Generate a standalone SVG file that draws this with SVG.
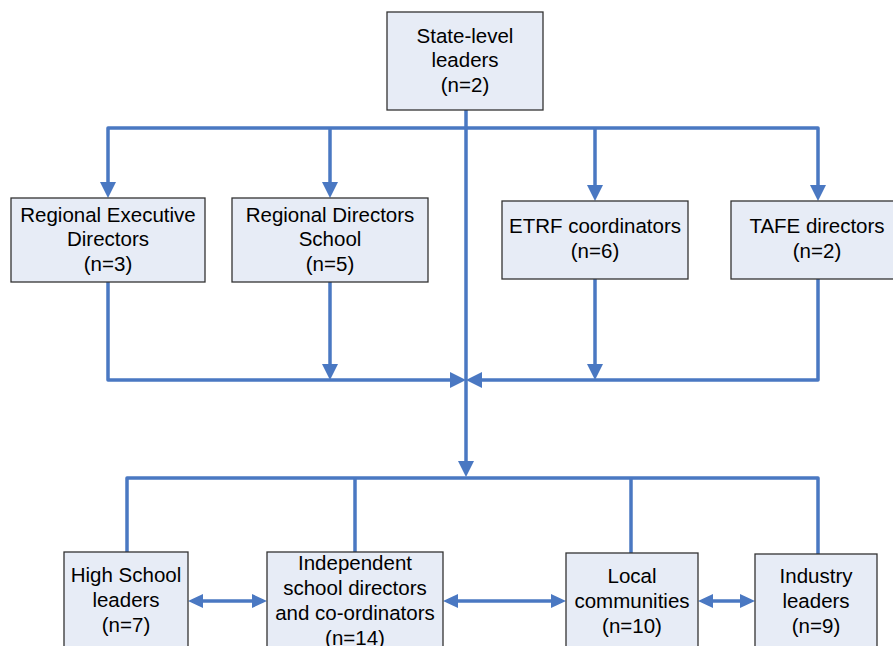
<svg xmlns="http://www.w3.org/2000/svg" width="893" height="646" viewBox="0 0 893 646">
<style>
.box{fill:#E7ECF6;stroke:#333;stroke-width:1.3}
.t{font-family:"Liberation Sans",Arial,sans-serif;font-size:20.5px;fill:#000;text-anchor:middle}
.c{fill:none;stroke:#4A78C2;stroke-width:3.5;stroke-linejoin:round}
.a{marker-end:url(#ah)}
.d{marker-start:url(#sh);marker-end:url(#sh)}
</style>
<defs>
<marker id="ah" markerUnits="userSpaceOnUse" viewBox="0 0 16 16" refX="12" refY="8" markerWidth="16" markerHeight="16" orient="auto-start-reverse">
<path d="M0,0 L16,8 L0,16 z" fill="#4A78C2"/>
</marker>
<marker id="sh" markerUnits="userSpaceOnUse" viewBox="0 0 15 14" refX="11" refY="7" markerWidth="15" markerHeight="14" orient="auto-start-reverse">
<path d="M0,0 L15,7 L0,14 z" fill="#4A78C2"/>
</marker>
</defs>
<g id="connectors">
<path class="c" d="M108,194 V128 H818 V197" style="marker-start:url(#ah);marker-end:url(#ah)"/>
<path class="c" d="M466,110 V128"/>
<path class="c a" d="M330,128 V194"/>
<path class="c a" d="M595,128 V197"/>
<path class="c a" d="M466,128 V473"/>
<path class="c a" d="M108,282 V380 H462"/>
<path class="c a" d="M818,279 V380 H470"/>
<path class="c a" d="M330,282 V376"/>
<path class="c a" d="M595,279 V376"/>
<path class="c" d="M127,552 V478 H818 V554"/>
<path class="c" d="M355,478 V552"/>
<path class="c" d="M631,478 V553"/>
<path class="c d" d="M192,601 H263"/>
<path class="c d" d="M447,601 H562"/>
<path class="c d" d="M702,601 H751"/>
</g>
<g id="state">
<rect class="box" x="387" y="12" width="156" height="98"/>
<text class="t" x="465" y="43">State-level</text>
<text class="t" x="465" y="67">leaders</text>
<text class="t" x="465" y="92">(n=2)</text>
</g>
<g id="red">
<rect class="box" x="11" y="198" width="194" height="84"/>
<text class="t" x="108" y="222">Regional Executive</text>
<text class="t" x="108" y="246">Directors</text>
<text class="t" x="108" y="271">(n=3)</text>
</g>
<g id="rds">
<rect class="box" x="232" y="198" width="196" height="84"/>
<text class="t" x="330" y="222">Regional Directors</text>
<text class="t" x="330" y="246">School</text>
<text class="t" x="330" y="271">(n=5)</text>
</g>
<g id="etrf">
<rect class="box" x="502" y="201" width="186" height="78"/>
<text class="t" x="595" y="233">ETRF coordinators</text>
<text class="t" x="595" y="258">(n=6)</text>
</g>
<g id="tafe">
<rect class="box" x="731" y="201" width="170" height="78"/>
<text class="t" x="817" y="233">TAFE directors</text>
<text class="t" x="817" y="258">(n=2)</text>
</g>
<g id="hs">
<rect class="box" x="64" y="552" width="124" height="110"/>
<text class="t" x="126" y="582">High School</text>
<text class="t" x="126" y="607">leaders</text>
<text class="t" x="126" y="632">(n=7)</text>
</g>
<g id="indep">
<rect class="box" x="267" y="552" width="176" height="110"/>
<text class="t" x="355" y="570">Independent</text>
<text class="t" x="355" y="595">school directors</text>
<text class="t" x="355" y="620">and co-ordinators</text>
<text class="t" x="355" y="645">(n=14)</text>
</g>
<g id="local">
<rect class="box" x="566" y="553" width="132" height="110"/>
<text class="t" x="632" y="583">Local</text>
<text class="t" x="632" y="608">communities</text>
<text class="t" x="632" y="633">(n=10)</text>
</g>
<g id="industry">
<rect class="box" x="755" y="554" width="122" height="110"/>
<text class="t" x="816" y="583">Industry</text>
<text class="t" x="816" y="608">leaders</text>
<text class="t" x="816" y="633">(n=9)</text>
</g>
</svg>
